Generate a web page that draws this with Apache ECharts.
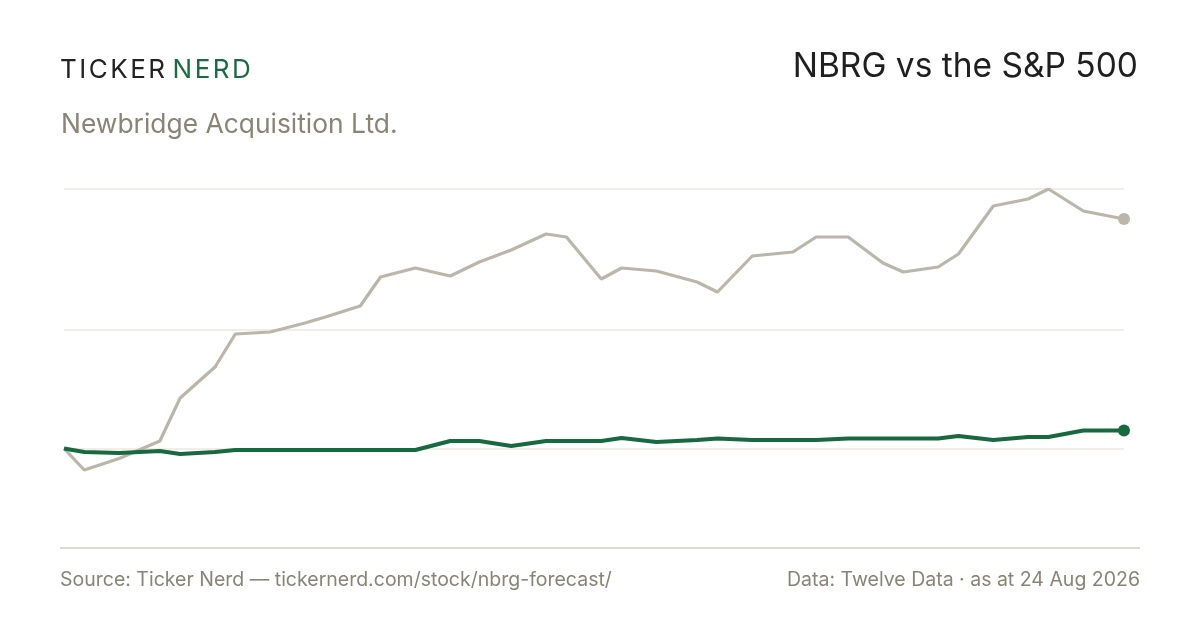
<!DOCTYPE html>
<html>
<head>
<meta charset="utf-8">
<script src="https://cdn.jsdelivr.net/npm/echarts@6/dist/echarts.min.js"></script>
<style>
  html, body { margin: 0; padding: 0; background: #ffffff; }
  #wrap { position: relative; width: 1200px; height: 630px; }
  #chart { width: 1200px; height: 630px; }
  #logo {
    position: absolute; left: 60px; top: 56px;
    font: 400 26px/26px Inter, "Noto Sans", sans-serif;
    letter-spacing: 2.5px; white-space: nowrap; color: #222222;
  }
  #logo .nerd { color: #1b6b42; margin-left: 5px; }
</style>
</head>
<body>
<div id="wrap">
  <div id="chart"></div>
  <div id="logo">TICKER<span class="nerd">NERD</span></div>
</div>
<script>
// dates of the sampled points
const dates = [
  '2025-08-24', '2025-08-31', '2025-09-12', '2025-09-26', '2025-10-03', '2025-10-15',
  '2025-10-22', '2025-11-03', '2025-11-15', '2025-11-22', '2025-12-04', '2025-12-11',
  '2025-12-23', '2026-01-04', '2026-01-14', '2026-01-25', '2026-02-06', '2026-02-13',
  '2026-02-25', '2026-03-04', '2026-03-16', '2026-03-30', '2026-04-06', '2026-04-18',
  '2026-05-02', '2026-05-10', '2026-05-21', '2026-06-02', '2026-06-09', '2026-06-21',
  '2026-06-28', '2026-07-10', '2026-07-22', '2026-07-29', '2026-08-10', '2026-08-24'
];
// % change since start, S&P 500
const spxValues = [
  0, -2.15, -1.0, 0.75, 5.05, 8.15,
  11.45, 11.65, 12.55, 13.15, 14.25, 17.15,
  18.05, 17.25, 18.65, 19.85, 21.45, 21.15,
  16.95, 18.05, 17.75, 16.65, 15.65, 19.25,
  19.65, 21.15, 21.15, 18.55, 17.65, 18.15,
  19.45, 24.25, 24.95, 25.95, 23.75, 22.95
];
// % change since start, NBRG
const nbrgValues = [
  0, -0.35, -0.45, -0.25, -0.55, -0.35,
  -0.15, -0.15, -0.15, -0.15, -0.15, -0.15,
  -0.15, 0.75, 0.75, 0.25, 0.75, 0.75,
  0.75, 1.05, 0.65, 0.85, 1.0, 0.85,
  0.85, 0.85, 1.0, 1.0, 1.0, 1.0,
  1.25, 0.85, 1.15, 1.15, 1.8, 1.8
];
// values where the faint grid lines sit
const gridValues = [0, 11.9, 25.95];

const GREEN = '#17693f';
const GREY = '#bcb5a9';
const MUTED = '#8a8476';
const FONT = 'Inter, "Noto Sans", sans-serif';

const toPairs = (vals) => vals.map((v, i) => [dates[i], v]);
const last = dates.length - 1;

const chart = echarts.init(document.getElementById('chart'), null, { renderer: 'canvas' });

chart.setOption({
  backgroundColor: '#ffffff',
  animation: false,
  grid: { left: 64, right: 76, top: 189, bottom: 82 },
  xAxis: {
    type: 'time',
    min: dates[0],
    max: dates[last],
    show: false,
  },
  yAxis: {
    type: 'value',
    min: -9.95,
    max: 25.95,
    show: false,
    splitLine: { show: false },
  },
  graphic: [
    {
      type: 'text', left: 61, top: 112,
      style: { text: 'Newbridge Acquisition Ltd.', font: '400 26.4px ' + FONT, fill: MUTED },
    },
    {
      type: 'text', right: 62, top: 50,
      style: { text: 'NBRG vs the S&P 500', font: '400 33.5px ' + FONT, fill: '#1f1f1f' },
    },
    {
      type: 'line',
      shape: { x1: 60, y1: 548, x2: 1140, y2: 548 },
      style: { stroke: '#dedad0', lineWidth: 2 },
    },
    {
      type: 'text', left: 60, top: 570,
      style: { text: 'Source: Ticker Nerd — tickernerd.com/stock/nbrg-forecast/', font: '400 19.5px ' + FONT, fill: MUTED },
    },
    {
      type: 'text', right: 60, top: 570,
      style: { text: 'Data: Twelve Data · as at 24 Aug 2026', font: '400 19.5px ' + FONT, fill: MUTED },
    },
  ],
  series: [
    {
      name: 'S&P 500',
      type: 'line',
      data: toPairs(spxValues),
      symbol: 'none',
      lineStyle: { color: GREY, width: 3.2 },
      z: 2,
      markLine: {
        silent: true,
        symbol: 'none',
        label: { show: false },
        lineStyle: { color: '#ece9e3', width: 1.5, type: 'solid' },
        data: gridValues.map((v) => ({ yAxis: v })),
        z: 1,
      },
    },
    {
      name: 'NBRG',
      type: 'line',
      data: toPairs(nbrgValues),
      symbol: 'none',
      lineStyle: { color: GREEN, width: 4.2 },
      z: 4,
    },
    {
      type: 'scatter',
      data: [[dates[last], spxValues[last]]],
      symbolSize: 12,
      itemStyle: { color: GREY, opacity: 1 },
      z: 3,
    },
    {
      type: 'scatter',
      data: [[dates[last], nbrgValues[last]]],
      symbolSize: 12,
      itemStyle: { color: GREEN, opacity: 1 },
      z: 5,
    },
  ],
});
</script>
</body>
</html>
